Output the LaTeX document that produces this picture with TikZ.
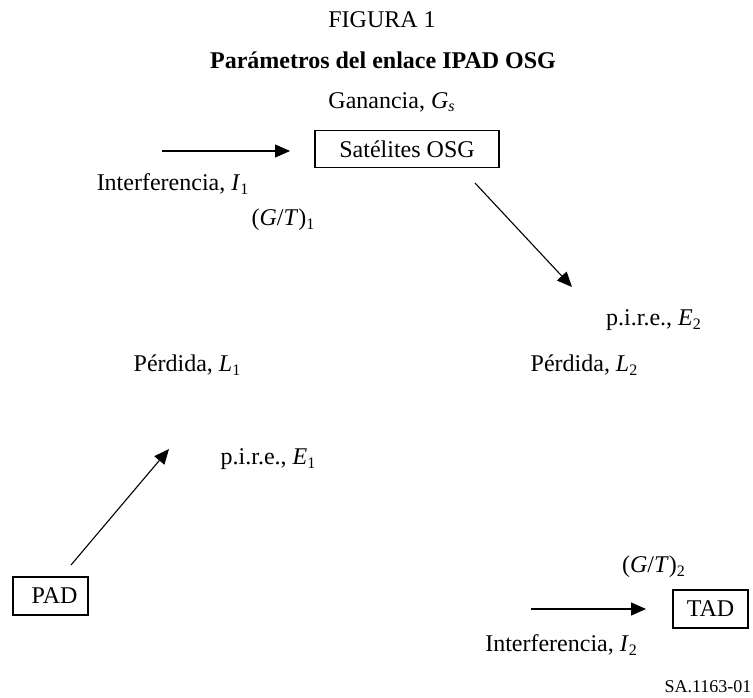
\documentclass[tikz,border=0pt]{standalone}
\usepackage{fontspec}
\setmainfont{Liberation Serif}
\usetikzlibrary{arrows.meta}
\begin{document}
\begin{tikzpicture}[x=0.5pt,y=-0.5pt,
  lbl/.style={inner sep=0pt, font=\fontsize{12}{14}\selectfont},
  boxn/.style={draw, line width=0.75pt, inner sep=0pt, font=\fontsize{12}{14}\selectfont},
  arr/.style={line width=0.55pt, -{Triangle[length=7.5pt,width=6.5pt]}}]
\useasboundingbox (0,0) rectangle (753,697);
\node[lbl] (fig) at (382,20) {FIGURA 1};
\node[lbl, font=\fontsize{12}{14}\selectfont\bfseries] (tit) at (383,60) {Parámetros del enlace IPAD OSG};
\node[lbl] (gan) at (392,102) {Ganancia, \textit{G}\textsubscript{\textit{s}}};
\node[boxn, minimum width=92pt, minimum height=18.5pt] (sat) at (407,149) {Satélites OSG};
\node[lbl] (i1) at (173,184) {Interferencia, \textit{I}\textsubscript{1}};
\node[lbl] (gt1) at (283.5,220) {(\textit{G}/\textit{T})\textsubscript{1}};
\node[lbl] (e2) at (654,320) {p.i.r.e., \textit{E}\textsubscript{2}};
\node[lbl] (l1) at (187.5,365) {Pérdida, \textit{L}\textsubscript{1}};
\node[lbl] (l2) at (584.5,365) {Pérdida, \textit{L}\textsubscript{2}};
\node[lbl] (e1) at (268.5,459) {p.i.r.e., \textit{E}\textsubscript{1}};
\node[boxn, minimum width=37.5pt, minimum height=19pt] (pad) at (50.5,596) {\hspace{4pt}PAD};
\node[lbl] (gt2) at (654,567) {(\textit{G}/\textit{T})\textsubscript{2}};
\node[boxn, minimum width=37.5pt, minimum height=19pt] (tad) at (710.5,609) {TAD};
\node[lbl] (i2) at (561.5,645) {Interferencia, \textit{I}\textsubscript{2}};
\node[lbl, font=\fontsize{9}{11}\selectfont] (sa) at (708,687) {SA.1163-01};
\coordinate (a1s) at (162,151); \coordinate (a1e) at (290,151);
\coordinate (a2s) at (475,183); \coordinate (a2e) at (572,287);
\coordinate (a3s) at (71,565);  \coordinate (a3e) at (169,449);
\coordinate (a4s) at (531,609); \coordinate (a4e) at (646,609);
\draw[arr] (a1s) -- (a1e);
\draw[arr] (a2s) -- (a2e);
\draw[arr] (a3s) -- (a3e);
\draw[arr] (a4s) -- (a4e);
\end{tikzpicture}
\end{document}
